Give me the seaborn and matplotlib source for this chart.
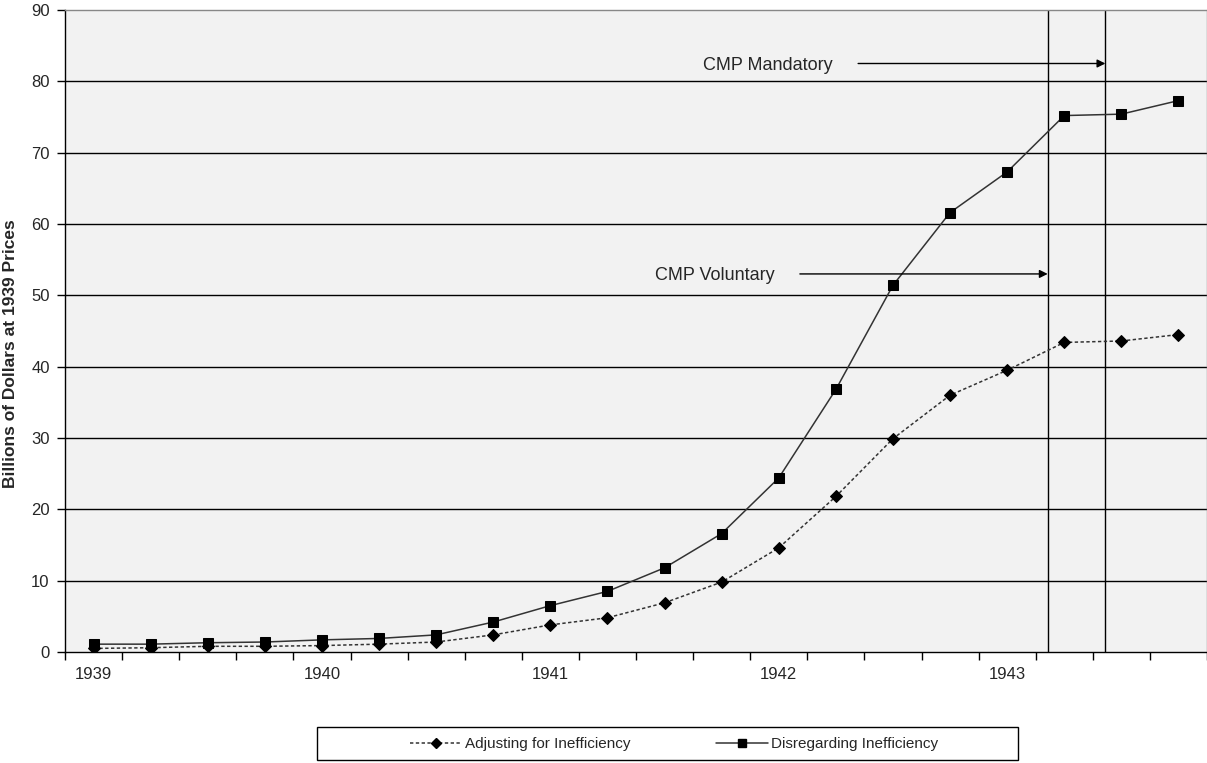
import matplotlib
matplotlib.use("Agg")
from matplotlib import pyplot as plt
from matplotlib.lines import Line2D
from matplotlib.patches import Rectangle
import pandas as pd
import seaborn as sns

# Quarterly values, 1939 Q1 .. 1943 Q4
quarters = list(range(20))
year_labels = ['1939', '1940', '1941', '1942', '1943']
adjusting = [0.5, 0.6, 0.8, 0.8, 0.9, 1.1, 1.4, 2.4, 3.8, 4.8,
             6.9, 9.8, 14.6, 21.8, 29.9, 36.0, 39.5, 43.4, 43.6, 44.5]
disregarding = [1.1, 1.1, 1.3, 1.4, 1.7, 1.9, 2.4, 4.2, 6.5, 8.5,
                11.8, 16.6, 24.4, 36.8, 51.4, 61.6, 67.3, 75.2, 75.4, 77.3]

df = pd.DataFrame({'q': quarters, 'adj': adjusting, 'dis': disregarding})

sns.set_style("white")
plt.rcParams['font.family'] = ['Liberation Sans', 'DejaVu Sans']

fig = plt.figure(figsize=(12.07, 7.63), dpi=100)
ax = fig.add_axes([65 / 1207, 1 - 652 / 763, 1 - 65 / 1207, 642 / 763])
ax.set_facecolor('#f2f2f2')

# gridlines
for v in range(10, 90, 10):
    ax.axhline(v, color='black', lw=1.0, zorder=1)

sns.lineplot(data=df, x='q', y='adj', ax=ax, color='#333333', lw=1.1,
             linestyle=(0, (2.2, 1.6)), marker='D', markersize=6,
             markerfacecolor='black', markeredgecolor='black', zorder=3)
sns.lineplot(data=df, x='q', y='dis', ax=ax, color='#333333', lw=1.1,
             marker='s', markersize=7.8,
             markerfacecolor='black', markeredgecolor='black', zorder=3)

# CMP vertical lines and arrows
ax.axvline(16.71, color='black', lw=1.0, zorder=2)
ax.axvline(17.72, color='black', lw=1.0, zorder=2)
ax.annotate('', xy=(17.72, 82.5), xytext=(13.39, 82.5),
            arrowprops=dict(arrowstyle='-|>', color='black', lw=1.0,
                            mutation_scale=12, shrinkA=0, shrinkB=0))
ax.text(10.68, 82.5, 'CMP Mandatory', fontsize=13, va='center_baseline', ha='left')
ax.annotate('', xy=(16.71, 53.0), xytext=(12.37, 53.0),
            arrowprops=dict(arrowstyle='-|>', color='black', lw=1.0,
                            mutation_scale=12, shrinkA=0, shrinkB=0))
ax.text(9.84, 53.0, 'CMP Voluntary', fontsize=13, va='center_baseline', ha='left')

ax.set_xlim(-0.5, 19.5)
ax.set_ylim(0, 90)
ax.set_yticks(range(0, 91, 10))
ax.set_xticks([0, 4, 8, 12, 16])
ax.set_xticklabels(year_labels)
ax.set_xticks([i - 0.5 for i in range(21)], minor=True)
ax.tick_params(axis='x', which='major', length=0, pad=11, labelsize=12)
ax.tick_params(axis='x', which='minor', length=6, width=1, color='black',
               direction='out', bottom=True)
ax.tick_params(axis='y', length=6, width=1, color='black', direction='out',
               left=True, labelsize=12, pad=5)
ax.set_xlabel('')
ax.set_ylabel('Billions of Dollars at 1939 Prices', fontsize=12.5,
              fontweight='bold', va='center')
ax.yaxis.set_label_coords(-0.048, 0.464)

for s in ['left', 'bottom']:
    ax.spines[s].set_color('black')
    ax.spines[s].set_linewidth(1.0)
for s in ['top', 'right']:
    ax.spines[s].set_color('#888888')
    ax.spines[s].set_linewidth(1.0)

# legend with box
fig.patches.append(Rectangle((317 / 1207, 1 - 760 / 763), 701 / 1207, 33 / 763,
                             transform=fig.transFigure, fill=False,
                             edgecolor='black', lw=1.0))
handles = [
    Line2D([], [], color='#333333', lw=1.1, linestyle=(0, (2.2, 1.6)),
           marker='D', markersize=5, markerfacecolor='black',
           markeredgecolor='black'),
    Line2D([], [], color='#333333', lw=1.1, marker='s', markersize=6,
           markerfacecolor='black', markeredgecolor='black'),
]
fig.legend(handles, ['Adjusting for Inefficiency', 'Disregarding Inefficiency'],
           loc='center', bbox_to_anchor=(674 / 1207, 1 - 744 / 763), ncol=2,
           frameon=False, fontsize=11, handlelength=3.4, handletextpad=0.2,
           columnspacing=5.6)

fig.savefig('out.png', dpi=100)
